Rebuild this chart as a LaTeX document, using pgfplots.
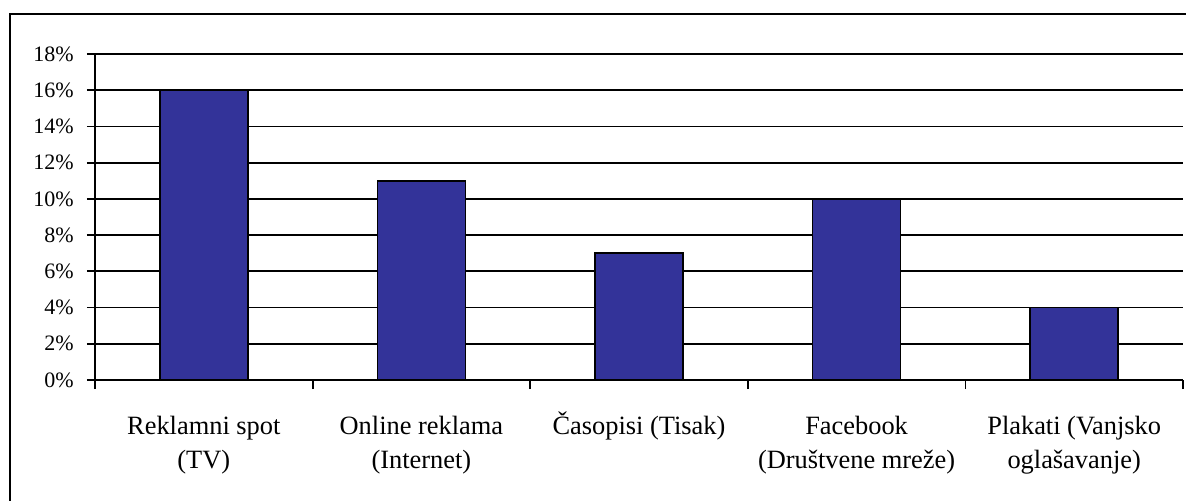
\documentclass[border=0pt]{standalone}
\usepackage{pgfplots}
\pgfplotsset{compat=1.18}
\usepackage{fontspec}
\setmainfont{Liberation Serif}
\definecolor{barblue}{HTML}{333399}
\newcommand{\up}{\rule{0pt}{13pt}}
\begin{document}
\begin{tikzpicture}
\useasboundingbox (0,0) rectangle (593pt,250pt);
\draw[line width=1pt] (5pt,-10pt) rectangle (610pt,243pt);
\begin{axis}[
    at={(47.5pt,60pt)}, anchor=south west,
    scale only axis,
    width=544pt, height=163pt,
    xmin=0.5, xmax=5.5,
    ymin=0, ymax=18,
    axis x line*=bottom, axis y line*=left,
    axis line style={line width=0.9pt, -},
    xtick={1,...,5},
    xticklabels={\up Reklamni spot\\(TV), \up Online reklama\\(Internet), \up Časopisi (Tisak), \up Facebook\\(Društvene mreže), \up Plakati (Vanjsko\\oglašavanje)},
    minor xtick={0.5,1.5,...,5.5},
    major x tick style={draw=none},
    minor tick length=4.5pt,
    major tick length=4pt,
    tick align=outside,
    tick style={line width=0.9pt, black},
    ytick={0,2,...,18},
    yticklabel={\pgfmathprintnumber{\tick}\%},
    ymajorgrids,
    grid style={line width=0.9pt, black},
    /pgf/number format/assume math mode=true,
    yticklabel style={font=\fontsize{11}{13}\selectfont, inner sep=0pt, xshift=-6.5pt},
    xticklabel style={font=\fontsize{13.2}{17}\selectfont, align=center, anchor=north, inner sep=0pt, yshift=-10pt},
]
\addplot[ybar, bar width=44pt, fill=barblue, draw=black, line width=0.75pt] coordinates {
    (1,16) (2,11) (3,7) (4,10) (5,4)
};
\end{axis}
\end{tikzpicture}
\end{document}
